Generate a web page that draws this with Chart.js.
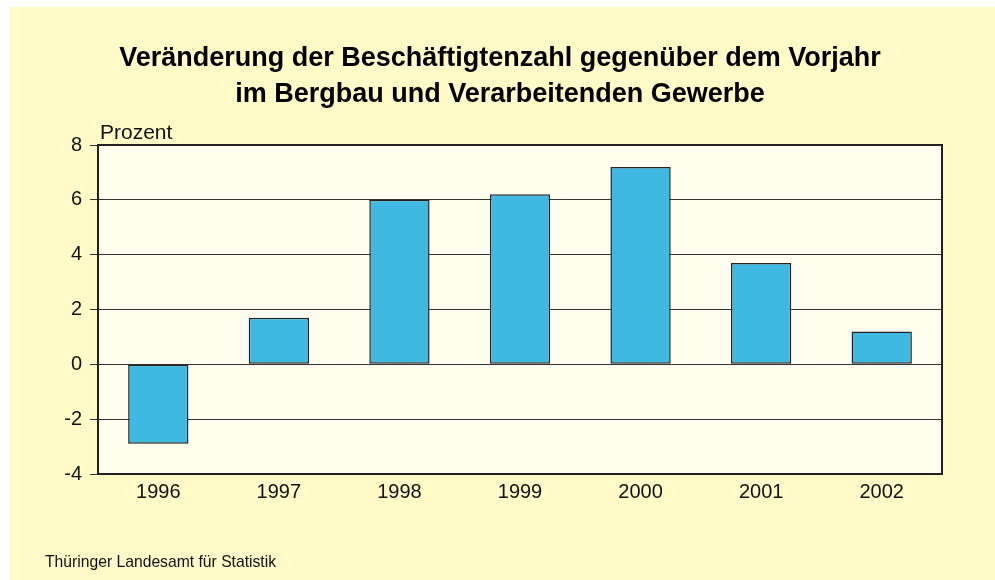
<!DOCTYPE html>
<html>
<head>
<meta charset="utf-8">
<script src="https://cdn.jsdelivr.net/npm/chart.js@4.4.0/dist/chart.umd.min.js"></script>
<style>
  body { margin: 0; background: #fff; }
  #wrap { position: absolute; left: 10px; top: 7px; width: 985px; height: 573px; background: #FFFAC8; }
</style>
</head>
<body>
<div id="wrap"><canvas id="chart" width="985" height="573"></canvas></div>
<script>
// =====================
// DATEN
// =====================
const jahre = ["1996", "1997", "1998", "1999", "2000", "2001", "2002"];
const veraenderung = [-2.9, 1.7, 6.0, 6.2, 7.2, 3.7, 1.2];
const yTicks = [-4, -2, 0, 2, 4, 6, 8];

const titelZeilen = [
  "Veränderung der Beschäftigtenzahl gegenüber dem Vorjahr",
  "im Bergbau und Verarbeitenden Gewerbe"
];
const einheit = "Prozent";
const quelle = "Thüringer Landesamt für Statistik";

const FONT = "'Liberation Sans', Arial, sans-serif";

// =====================
// PLUGIN: HINTERGRUND, RAHMEN, TEXTE
// =====================
const deko = {
  id: "deko",
  beforeDraw(chart) {
    const { ctx, chartArea: a } = chart;
    ctx.save();
    ctx.fillStyle = "#FFFDEE";
    ctx.fillRect(a.left, a.top, a.right - a.left, a.bottom - a.top);
    ctx.restore();
  },
  afterDraw(chart) {
    const { ctx, chartArea: a } = chart;
    ctx.save();
    ctx.strokeStyle = "#222";
    ctx.lineWidth = 2;
    ctx.strokeRect(a.left, a.top, a.right - a.left, a.bottom - a.top);

    ctx.fillStyle = "#000";
    ctx.textAlign = "center";
    ctx.textBaseline = "middle";
    ctx.font = "bold 27px " + FONT;
    ctx.fillText(titelZeilen[0], 490, 52);
    ctx.fillText(titelZeilen[1], 490, 88);

    ctx.fillStyle = "#111";
    ctx.textAlign = "left";
    ctx.font = "21px " + FONT;
    ctx.fillText(einheit, a.left + 2, 126);

    ctx.font = "15.7px " + FONT;
    ctx.fillText(quelle, 35, 556);
    ctx.restore();
  }
};

// =====================
// GRAFIK
// =====================
const ctx = document.getElementById("chart");
new Chart(ctx, {
  type: "bar",
  data: {
    labels: jahre,
    datasets: [{
      data: veraenderung,
      backgroundColor: "#3FB9E1",
      borderColor: "#222",
      borderWidth: 1.5,
      borderSkipped: false,
      categoryPercentage: 1,
      barPercentage: 0.5
    }]
  },
  options: {
    responsive: false,
    animation: false,
    layout: { padding: { top: 138, right: 53, left: 0, bottom: 0 } },
    plugins: {
      legend: { display: false },
      title: { display: false },
      tooltip: { enabled: false }
    },
    scales: {
      x: {
        grid: { display: false },
        border: { display: false },
        ticks: { color: "#111", font: { family: FONT, size: 20 }, padding: -2 },
        afterFit(s) { s.height = 106; }
      },
      y: {
        min: -4,
        max: 8,
        afterBuildTicks(s) { s.ticks = yTicks.map(v => ({ value: v })); },
        grid: { color: "#333", lineWidth: 1, tickLength: 8 },
        border: { display: false },
        ticks: { color: "#111", font: { family: FONT, size: 20 }, padding: 8 },
        afterFit(s) { s.width = 88; }
      }
    }
  },
  plugins: [deko]
});
</script>
</body>
</html>
